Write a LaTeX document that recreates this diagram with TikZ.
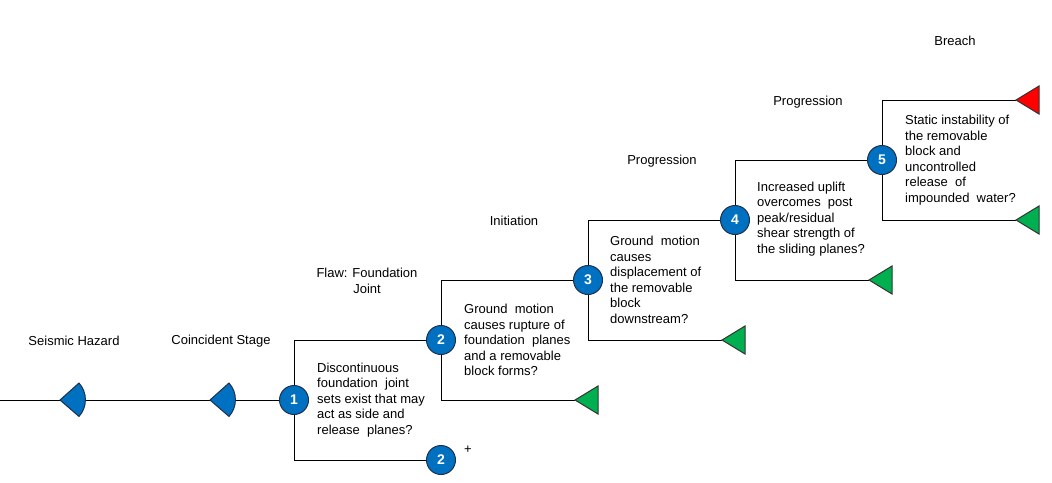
\documentclass[tikz,border=0pt]{standalone}
\usepackage{fontspec}
\setmainfont{Liberation Sans}
\usetikzlibrary{calc}
\definecolor{evblue}{HTML}{0070C0}
\definecolor{evgreen}{HTML}{00B050}
\definecolor{evred}{HTML}{FF0000}
\definecolor{evedge}{HTML}{1F2F4F}
\def\endtri[#1](#2){\draw[line width=1pt, fill=#1, draw=black!80] (#2) -- ++(23,-14) -- ++(0,28) -- cycle;}
\def\hazsector(#1){\draw[line width=1pt, fill=evblue, draw=evedge] (#1) -- ++(19,-17) arc (-42:42:25) -- cycle;}
\tikzset{
	evnum/.style={circle, fill=evblue, draw=evedge, line width=1pt, minimum size=29pt, inner sep=0pt, text=white, font=\fontsize{14}{16}\selectfont\bfseries},
	qtext/.style={anchor=west, align=left, inner sep=0pt, font=\fontsize{13}{15.5}\selectfont},
	stagelbl/.style={align=center, inner sep=0pt, font=\fontsize{13}{15.5}\selectfont},
	branch/.style={line width=1pt}
}

\begin{document}
\begin{tikzpicture}[x=1pt, y=-1pt]
			%%%%% START %%%%%
			\useasboundingbox (0,0) rectangle (1052,482);
			
			\coordinate (start) at (0,400);
			\coordinate (haz) at (60,400);
			\coordinate (coinc) at (210,400);
			
			\node[evnum] (n1) at (294,400) {1};
			\node[evnum] (n2a) at (441,340) {2};
			\node[evnum] (n2b) at (441,460) {2};
			\node[evnum] (n3) at (588,280) {3};
			\node[evnum] (n4) at (735,220) {4};
			\node[evnum] (n5) at (882,160) {5};
			
			\coordinate (t2) at (575,400);
			\coordinate (t3) at (722,340);
			\coordinate (t4) at (869,280);
			\coordinate (t5) at (1016,220);
			\coordinate (t5r) at (1016,100);
			
			\draw[branch] (start) -- (n1);
			\draw[branch] (n1) |- (n2a);
			\draw[branch] (n1) |- (n2b);
			\draw[branch] (n2a) |- (n3);
			\draw[branch] (n2a) |- (t2);
			\draw[branch] (n3) |- (n4);
			\draw[branch] (n3) |- (t3);
			\draw[branch] (n4) |- (n5);
			\draw[branch] (n4) |- (t4);
			\draw[branch] (n5) |- (t5r);
			\draw[branch] (n5) |- (t5);
			
			\hazsector(haz);
			\hazsector(coinc);
			
			\endtri[evgreen](t2);
			\endtri[evgreen](t3);
			\endtri[evgreen](t4);
			\endtri[evgreen](t5);
			\endtri[evred](t5r);
			
			\node[stagelbl] (lhaz) at (74,341) {Seismic Hazard};
			\node[stagelbl] (lcoinc) at (221,341) {Coincident Stage};
			\node[stagelbl] (lflaw) at (367,281) {Flaw: Foundation\\Joint};
			\node[stagelbl] (linit) at (514,221) {Initiation};
			\node[stagelbl] (lprog1) at (662,161) {Progression};
			\node[stagelbl] (lprog2) at (808,102) {Progression};
			\node[stagelbl] (lbreach) at (955,41) {Breach};
			\node[stagelbl] (plus) at (468,450) {+};
			
			\node[qtext] (q1) at (317,400) {Discontinuous\\foundation\ \ joint\\sets exist that may\\act as side and\\release\ \ planes?};
			\node[qtext] (q2) at (464,340) {Ground\ \ motion\\causes rupture\ of\\foundation\ \ planes\\and a removable\\block forms?};
			\node[qtext] (q3) at (610,280) {Ground\ \ motion\\causes\\displacement\ of\\the removable\\block\\downstream?};
			\node[qtext] (q4) at (757,219) {Increased\ uplift\\overcomes\ \ post\\peak/residual\\shear strength\ of\\the sliding planes?};
			\node[qtext] (q5) at (905,160) {Static instability of\\the removable\\block and\\uncontrolled\\release\ \ of\\impounded\ \ water?};
			
			%%%%% END %%%%%
\end{tikzpicture}
\end{document}
